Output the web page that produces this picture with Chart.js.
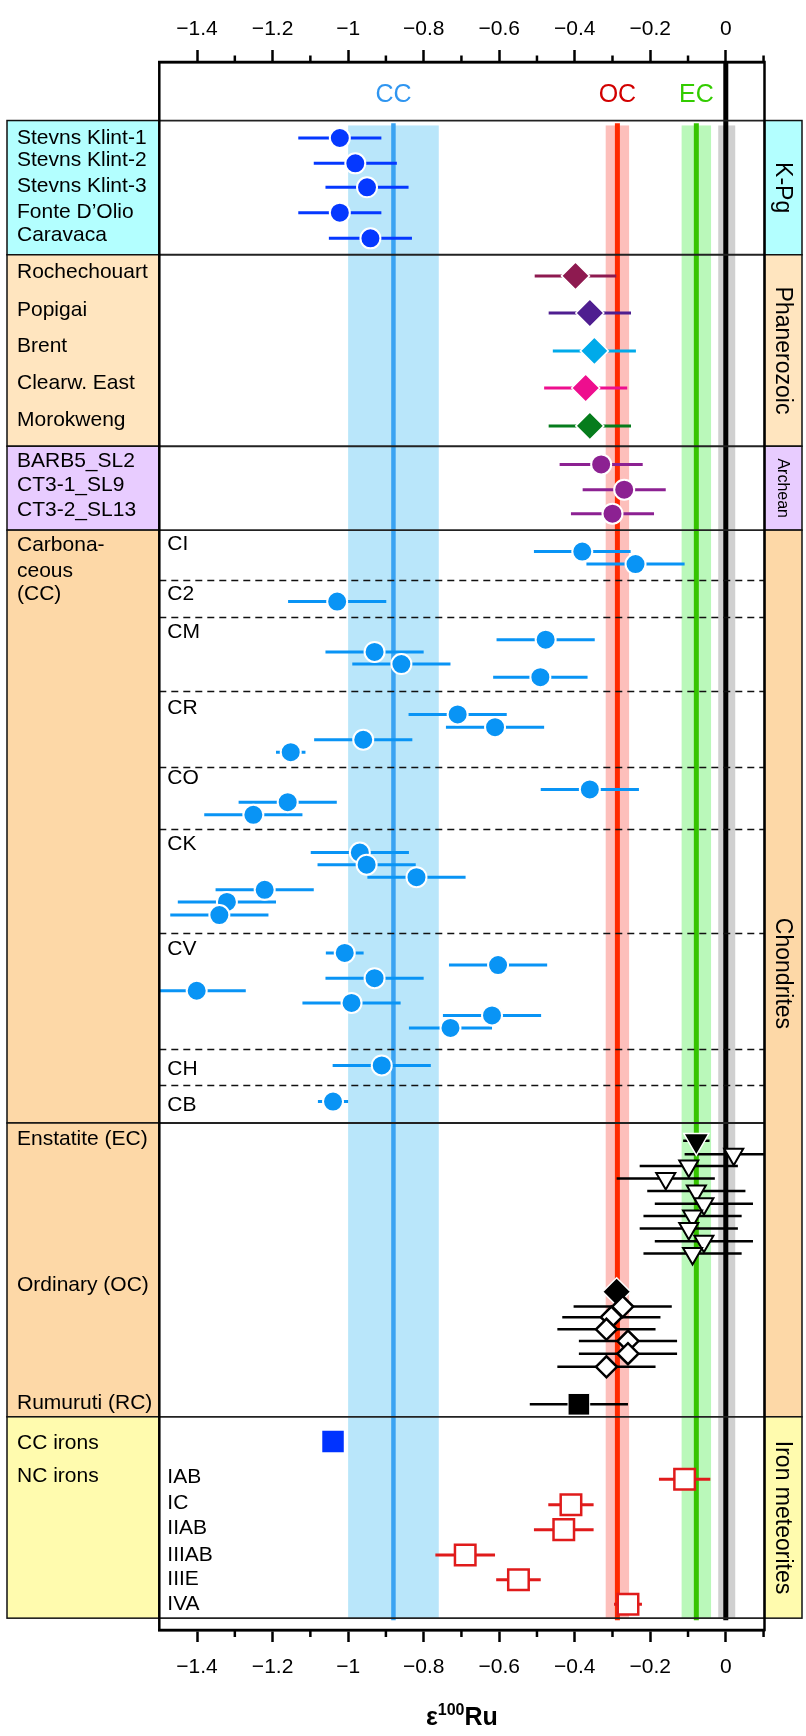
<!DOCTYPE html>
<html>
<head>
<meta charset="utf-8">
<title>ε100Ru of impact samples, chondrites and iron meteorites</title>
<script src="https://cdn.jsdelivr.net/npm/chart.js@4.4.1/dist/chart.umd.min.js"></script>
<style>
  html, body { margin: 0; padding: 0; background: #ffffff; }
  canvas { display: block; }
</style>
</head>
<body>
<canvas id="ruChart" width="806" height="1736"></canvas>
<script>
// ---------------- axis ----------------
const xRange = [-1.5, 0.1025];
const majorTicks = [-1.4, -1.2, -1, -0.8, -0.6, -0.4, -0.2, 0];
const minorTicks = [-1.3, -1.1, -0.9, -0.7, -0.5, -0.3, -0.1, 0.1];
// vertical "track" coordinate, counted downward from the top of the frame
const trackRange = [0, 158.87];

// ---------------- reference compositions ----------------
const refNames = ['CC', 'OC', 'EC'];
const refMeans = [-0.88, -0.287, -0.078];
const refHalfWidths = [0.12, 0.031, 0.039];
const terrestrialRange = [-0.02, 0.025];
const refLabelRow = 3.4;
const refSpan = [6.43, 157.67];

// ---------------- panels ----------------
const sectionBounds = [5.93, 19.53, 38.93, 47.43, 107.5, 137.27, 157.67];
const groupNames = ['K-Pg', 'Phanerozoic', 'Archean', 'Chondrites', 'Iron meteorites'];
const groupSpans = [[5.93, 19.53], [19.53, 38.93], [38.93, 47.43], [47.43, 137.27], [137.27, 157.67]];

const sideLabels = ['Stevns Klint-1', 'Stevns Klint-2', 'Stevns Klint-3', 'Fonte D\u2019Olio', 'Caravaca',
  'Rochechouart', 'Popigai', 'Brent', 'Clearw. East', 'Morokweng',
  'BARB5_SL2', 'CT3-1_SL9', 'CT3-2_SL13',
  'Carbona-', 'ceous', '(CC)',
  'Enstatite (EC)', 'Ordinary (OC)', 'Rumuruti (RC)',
  'CC irons', 'NC irons'];
const sideLabelRows = [7.7, 10.0, 12.6, 15.2, 17.5,
  21.27, 25.1, 28.77, 32.5, 36.27,
  40.4, 42.9, 45.4,
  48.93, 51.6, 53.93,
  109.1, 123.93, 135.93,
  139.93, 143.27];

const classLabels = ['CI', 'C2', 'CM', 'CR', 'CO', 'CK', 'CV', 'CH', 'CB', 'IAB', 'IC', 'IIAB', 'IIIAB', 'IIIE', 'IVA'];
const classLabelRows = [48.9, 53.9, 57.77, 65.43, 72.6, 79.27, 89.93, 102.1, 105.67, 143.4, 146.0, 148.53, 151.27, 153.77, 156.27];
const classDividerRows = [52.53, 56.27, 63.77, 71.43, 77.67, 88.2, 100.0, 103.7];

// ---------------- samples: value, 2σ half-width, track row ----------------
const kpgValues = [-1.022, -0.981, -0.950, -1.022, -0.941];
const kpgErrors = [0.11, 0.11, 0.11, 0.11, 0.11];
const kpgRows = [7.7, 10.27, 12.7, 15.27, 17.87];

const phanValues = [-0.398, -0.360, -0.348, -0.371, -0.360];
const phanErrors = [0.108, 0.109, 0.11, 0.11, 0.109];
const phanRows = [21.67, 25.43, 29.27, 33.03, 36.87];

const archValues = [-0.330, -0.269, -0.300];
const archErrors = [0.11, 0.11, 0.11];
const archRows = [40.77, 43.33, 45.77];

// carbonaceous chondrites: CI, C2, CM, CR, CO, CK, CV, CH, CB
const ccValues = [-0.380, -0.239,
  -1.029,
  -0.477, -0.930, -0.859, -0.491,
  -0.710, -0.611, -0.960, -1.152,
  -0.360, -1.160, -1.251,
  -0.969, -0.951, -0.819, -1.221, -1.321, -1.341,
  -1.009, -0.603, -0.930, -1.401, -0.991, -0.619, -0.729,
  -0.911,
  -1.040];
const ccErrors = [0.128, 0.13,
  0.13,
  0.13, 0.13, 0.13, 0.125,
  0.13, 0.13, 0.13, 0.039,
  0.13, 0.13, 0.13,
  0.13, 0.13, 0.13, 0.13, 0.13, 0.13,
  0.05, 0.13, 0.13, 0.13, 0.13, 0.13, 0.11,
  0.13,
  0.04];
const ccRows = [49.6, 50.87,
  54.67,
  58.53, 59.77, 61.0, 62.33,
  66.1, 67.4, 68.67, 69.93,
  73.7, 75.0, 76.27,
  80.1, 81.33, 82.6, 83.87, 85.1, 86.43,
  90.27, 91.5, 92.83, 94.1, 95.33, 96.6, 97.87,
  101.67,
  105.33];

// enstatite chondrites: group mean, then individual samples
const ecMeanValue = [-0.078];
const ecMeanError = [0.035];
const ecMeanRow = [109.3];
const ecValues = [0.021, -0.098, -0.159, -0.078, -0.058, -0.088, -0.098, -0.058, -0.088];
const ecErrors = [0.13, 0.13, 0.13, 0.13, 0.13, 0.13, 0.13, 0.13, 0.13];
const ecRows = [110.67, 111.87, 113.13, 114.4, 115.67, 116.93, 118.2, 119.47, 120.73];

// ordinary chondrites: group mean, then individual samples
const ocMeanValue = [-0.289];
const ocMeanRow = [124.6];
const ocValues = [-0.273, -0.303, -0.316, -0.259, -0.259, -0.316];
const ocErrors = [0.13, 0.13, 0.13, 0.13, 0.13, 0.13];
const ocRows = [126.1, 127.17, 128.4, 129.6, 130.87, 132.2];

// Rumuruti chondrite
const rcValues = [-0.389];
const rcErrors = [0.13];
const rcRows = [136.0];

// iron meteorites
const ccIronValues = [-1.040];
const ccIronRows = [139.77];
const ncIronValues = [-0.109, -0.410, -0.429, -0.690, -0.549, -0.259];
const ncIronErrors = [0.068, 0.06, 0.079, 0.079, 0.059, 0.037];
const ncIronRows = [143.6, 146.17, 148.7, 151.27, 153.77, 156.27];

// ---------------- styles ----------------
const FONT = '"Liberation Sans", Arial, Helvetica, sans-serif';
const refLineColors = ['#3aa3f2', '#ff2a00', '#35c400'];
const refBandColors = ['#b9e6fa', '#fdbfbb', '#baf8ba'];
const refTextColors = ['#2f95f0', '#d20000', '#33cc00'];
const terrestrialBandColor = '#d0d0d0';
const groupFills = ['#b3ffff', '#ffe5bf', '#e8ccff', '#fdd8a7', '#fffbae'];
const sideFills = ['#b3ffff', '#ffe5bf', '#e8ccff', '#fdd8a7', '#fdd8a7', '#fffbae'];
const kpgColor = '#0538ff';
const phanColors = ['#8e1a50', '#4f1e90', '#00aaea', '#ee0e8e', '#067c1c'];
const archColor = '#8c2192';
const ccColor = '#0994f5';
const ironRed = '#e01b1b';

const pts = (values, rows) => values.map((v, i) => ({ x: v, y: rows[i] }));
const fmtTick = v => (v < 0 ? '\u2212' + Math.abs(v) : String(v));

const datasets = [
  { label: 'K-Pg', data: pts(kpgValues, kpgRows), errors: kpgErrors, barColor: kpgColor,
    pointStyle: 'circle', pointRadius: 10, pointBackgroundColor: kpgColor, pointBorderColor: '#fff', pointBorderWidth: 2 },
  { label: 'Phanerozoic', data: pts(phanValues, phanRows), errors: phanErrors, barColor: phanColors,
    pointStyle: 'rectRot', pointRadius: 14, pointBackgroundColor: phanColors, pointBorderColor: '#fff', pointBorderWidth: 1.5 },
  { label: 'Archean', data: pts(archValues, archRows), errors: archErrors, barColor: archColor,
    pointStyle: 'circle', pointRadius: 10, pointBackgroundColor: archColor, pointBorderColor: '#fff', pointBorderWidth: 2 },
  { label: 'Carbonaceous', data: pts(ccValues, ccRows), errors: ccErrors, barColor: ccColor,
    pointStyle: 'circle', pointRadius: 10, pointBackgroundColor: ccColor, pointBorderColor: '#fff', pointBorderWidth: 2 },
  { label: 'EC samples', data: pts(ecValues, ecRows), errors: ecErrors, barColor: '#000', barWidth: 2.5,
    pointStyle: 'triangle', pointRotation: 180, pointRadius: 11, pointBackgroundColor: '#fff', pointBorderColor: '#000', pointBorderWidth: 2 },
  { label: 'EC mean', data: pts(ecMeanValue, ecMeanRow), errors: ecMeanError, barColor: '#000', barWidth: 2.5,
    pointStyle: 'triangle', pointRotation: 180, pointRadius: 14.5, pointBackgroundColor: '#000', pointBorderColor: '#fff', pointBorderWidth: 1.5 },
  { label: 'OC samples', data: pts(ocValues, ocRows), errors: ocErrors, barColor: '#000', barWidth: 2.5,
    pointStyle: 'rectRot', pointRadius: 10.5, pointBackgroundColor: '#fff', pointBorderColor: '#000', pointBorderWidth: 2.5 },
  { label: 'OC mean', data: pts(ocMeanValue, ocMeanRow),
    pointStyle: 'rectRot', pointRadius: 14, pointBackgroundColor: '#000', pointBorderColor: '#fff', pointBorderWidth: 1.5 },
  { label: 'RC', data: pts(rcValues, rcRows), errors: rcErrors, barColor: '#000', barWidth: 2.5,
    pointStyle: 'rect', pointRadius: 15.3, pointBackgroundColor: '#000', pointBorderColor: '#fff', pointBorderWidth: 1 },
  { label: 'CC irons', data: pts(ccIronValues, ccIronRows),
    pointStyle: 'rect', pointRadius: 15.2, pointBackgroundColor: '#0033ff', pointBorderColor: '#0033ff', pointBorderWidth: 0 },
  { label: 'NC irons', data: pts(ncIronValues, ncIronRows), errors: ncIronErrors, barColor: ironRed,
    pointStyle: 'rect', pointRadius: 14.5, pointBackgroundColor: '#fff', pointBorderColor: ironRed, pointBorderWidth: 2.5 }
];

const panelPlugin = {
  id: 'panelPlugin',
  beforeDatasetsDraw(chart) {
    const { ctx, chartArea: a } = chart;
    const xs = chart.scales.x, ys = chart.scales.y;
    const X = v => xs.getPixelForValue(v), Y = r => ys.getPixelForValue(r);
    ctx.save();

    // reference bands
    const bTop = Y(refSpan[0]), bBot = Y(refSpan[1]);
    refMeans.forEach((m, i) => {
      ctx.fillStyle = refBandColors[i];
      ctx.fillRect(X(m - refHalfWidths[i]), bTop, X(m + refHalfWidths[i]) - X(m - refHalfWidths[i]), bBot - bTop);
    });
    ctx.fillStyle = terrestrialBandColor;
    ctx.fillRect(X(terrestrialRange[0]), bTop, X(terrestrialRange[1]) - X(terrestrialRange[0]), bBot - bTop);

    // reference lines
    const lTop = Y(refSpan[0] - 0.23), lBot = Y(refSpan[1] + 0.2);
    refMeans.forEach((m, i) => {
      ctx.strokeStyle = refLineColors[i];
      ctx.lineWidth = i === 0 ? 4.5 : 5;
      ctx.beginPath(); ctx.moveTo(X(m), lTop); ctx.lineTo(X(m), lBot); ctx.stroke();
    });
    ctx.strokeStyle = '#000'; ctx.lineWidth = 5;
    ctx.beginPath(); ctx.moveTo(X(0), a.top); ctx.lineTo(X(0), lBot); ctx.stroke();

    // reference labels
    ctx.font = '25px ' + FONT; ctx.textAlign = 'center'; ctx.textBaseline = 'middle';
    refNames.forEach((n, i) => { ctx.fillStyle = refTextColors[i]; ctx.fillText(n, X(refMeans[i]), Y(refLabelRow)); });

    // class dividers
    ctx.strokeStyle = '#111'; ctx.lineWidth = 1.5; ctx.setLineDash([7, 5]);
    classDividerRows.forEach(r => {
      const y = Math.round(Y(r)) + 0.5;
      ctx.beginPath(); ctx.moveTo(a.left, y); ctx.lineTo(a.right, y); ctx.stroke();
    });
    ctx.setLineDash([]);

    // section lines across the plot
    ctx.strokeStyle = '#222'; ctx.lineWidth = 1.8;
    sectionBounds.forEach(r => {
      const y = Y(r);
      ctx.beginPath(); ctx.moveTo(a.left, y); ctx.lineTo(a.right, y); ctx.stroke();
    });

    // class labels
    ctx.font = '21px ' + FONT; ctx.textAlign = 'left'; ctx.fillStyle = '#000';
    classLabels.forEach((t, i) => ctx.fillText(t, a.left + 8, Y(classLabelRows[i])));

    // error bars
    ctx.beginPath(); ctx.rect(a.left, a.top, a.right - a.left, a.bottom - a.top); ctx.clip();
    ctx.lineCap = 'butt';
    chart.data.datasets.forEach(ds => {
      if (!ds.errors) return;
      ds.data.forEach((p, i) => {
        const e = ds.errors[i];
        ctx.strokeStyle = Array.isArray(ds.barColor) ? ds.barColor[i] : ds.barColor;
        ctx.lineWidth = ds.barWidth || 3;
        const y = Y(p.y);
        ctx.beginPath(); ctx.moveTo(X(p.x - e), y); ctx.lineTo(X(p.x + e), y); ctx.stroke();
      });
    });
    ctx.restore();
  },
  afterDraw(chart) {
    const { ctx, chartArea: a } = chart;
    const xs = chart.scales.x, xb = chart.scales.xb, ys = chart.scales.y;
    const X = v => xs.getPixelForValue(v), Y = r => ys.getPixelForValue(r);
    const leftEdge = 7, rightEdge = 802;
    ctx.save();

    // left panels
    ctx.lineWidth = 1.5; ctx.strokeStyle = '#111';
    for (let i = 0; i < sectionBounds.length - 1; i++) {
      const y1 = Y(sectionBounds[i]), y2 = Y(sectionBounds[i + 1]);
      ctx.fillStyle = sideFills[i];
      ctx.fillRect(leftEdge, y1, a.left - leftEdge, y2 - y1);
      ctx.strokeRect(leftEdge, y1, a.left - leftEdge, y2 - y1);
    }
    ctx.font = '21px ' + FONT; ctx.fillStyle = '#000'; ctx.textAlign = 'left'; ctx.textBaseline = 'middle';
    sideLabels.forEach((t, i) => ctx.fillText(t, leftEdge + 10, Y(sideLabelRows[i])));

    // right panels
    groupSpans.forEach((s, i) => {
      const y1 = Y(s[0]), y2 = Y(s[1]);
      ctx.fillStyle = groupFills[i];
      ctx.fillRect(a.right, y1, rightEdge - a.right, y2 - y1);
      ctx.strokeRect(a.right, y1, rightEdge - a.right, y2 - y1);
      ctx.save();
      ctx.translate((a.right + rightEdge) / 2, (y1 + y2) / 2);
      ctx.rotate(Math.PI / 2);
      ctx.fillStyle = '#000'; ctx.textAlign = 'center'; ctx.textBaseline = 'middle';
      ctx.font = (groupNames[i] === 'Archean' ? '16px ' : '23px ') + FONT;
      ctx.fillText(groupNames[i], 0, 1);
      ctx.restore();
    });

    // frame
    ctx.strokeStyle = '#000'; ctx.lineWidth = 2.5;
    ctx.strokeRect(a.left, a.top, a.right - a.left, a.bottom - a.top);

    // minor ticks
    ctx.lineWidth = 2.5;
    minorTicks.forEach(v => {
      const x = X(v);
      ctx.beginPath(); ctx.moveTo(x, a.top); ctx.lineTo(x, a.top - 6.5); ctx.stroke();
      ctx.beginPath(); ctx.moveTo(x, a.bottom); ctx.lineTo(x, a.bottom + 7); ctx.stroke();
    });

    // axis title: ε^100 Ru
    const cx = (a.left + a.right) / 2;
    const base = xb.bottom + 32;
    ctx.fillStyle = '#000'; ctx.textBaseline = 'alphabetic'; ctx.textAlign = 'left';
    const big = 'bold 25px ' + FONT, small = 'bold 16px ' + FONT;
    ctx.font = big; const wE = ctx.measureText('\u03b5').width, wR = ctx.measureText('Ru').width;
    ctx.font = small; const wS = ctx.measureText('100').width;
    let x0 = cx - (wE + wS + wR) / 2;
    ctx.font = big; ctx.fillText('\u03b5', x0, base); x0 += wE;
    ctx.font = small; ctx.fillText('100', x0, base - 10); x0 += wS;
    ctx.font = big; ctx.fillText('Ru', x0, base);
    ctx.restore();
  }
};

function axisOptions(position, pad) {
  return {
    type: 'linear', position: position, min: xRange[0], max: xRange[1],
    afterBuildTicks: s => { s.ticks = majorTicks.map(v => ({ value: v })); },
    ticks: { callback: fmtTick, padding: pad, color: '#000', autoSkip: false, maxRotation: 0,
             font: { family: FONT, size: 21 } },
    grid: { drawOnChartArea: false, drawTicks: true, tickLength: 12, tickWidth: 2.5, tickColor: '#000' },
    border: { display: true, width: 2.5, color: '#000' }
  };
}

new Chart(document.getElementById('ruChart'), {
  type: 'scatter',
  data: { datasets: datasets },
  options: {
    responsive: false, animation: false, devicePixelRatio: 1, events: [],
    layout: { padding: { top: 8.8, bottom: 43.4, left: 159.3, right: 41.5 } },
    plugins: { legend: { display: false }, tooltip: { enabled: false } },
    scales: {
      x: axisOptions('top', 8),
      xb: axisOptions('bottom', 12.7),
      y: { type: 'linear', display: false, reverse: true, min: trackRange[0], max: trackRange[1] }
    }
  },
  plugins: [panelPlugin]
});
</script>
</body>
</html>
